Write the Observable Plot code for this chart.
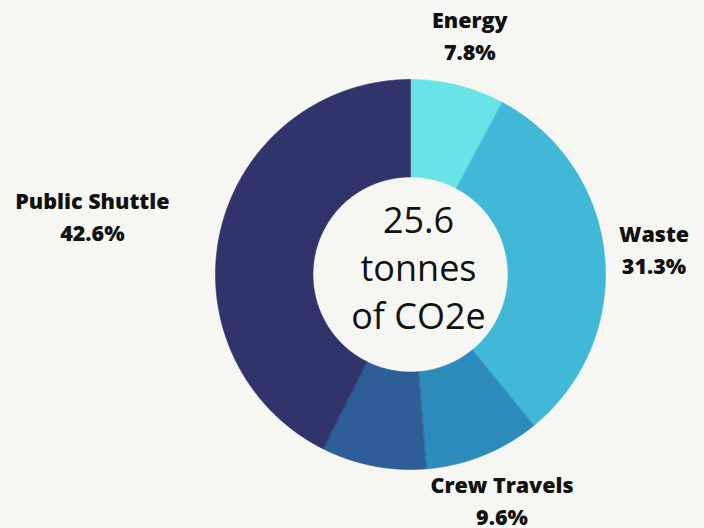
<!DOCTYPE html>
<html>
<head>
<meta charset="utf-8">
<script src="https://cdn.jsdelivr.net/npm/d3@7"></script>
<script src="https://cdn.jsdelivr.net/npm/@observablehq/plot@0.6"></script>
<style>
  html, body { margin: 0; padding: 0; background: #f6f7f2; }
  #chart { width: 704px; height: 528px; }
</style>
</head>
<body>
<div id="chart"></div>
<script>
// ---- data ----
const categories = ["Energy", "Waste", "Crew Travels", "Other", "Public Shuttle"];
const shares = [7.8, 31.3, 9.6, 8.7, 42.6];
const sliceLabels = ["Energy", "Waste", "Crew Travels", "", "Public Shuttle"];
const colors = ["#69e3e8", "#42b8d7", "#2d8bbb", "#2d5e97", "#31346a"];
const centerLines = ["25.6", "tonnes", "of CO2e"];

// ---- geometry derived from data (unit circle space) ----
const innerR = 0.5;
const total = d3.sum(shares);
const slices = [];
const labelData = [];
let cum = 0;
categories.forEach((cat, i) => {
  const a0 = (cum / total) * 2 * Math.PI;
  cum += shares[i];
  const a1 = (cum / total) * 2 * Math.PI;
  const n = Math.max(2, Math.ceil((a1 - a0) / (Math.PI / 360)));
  const pts = [];
  for (let k = 0; k <= n; k++) {
    const a = a0 + (a1 - a0) * k / n;
    pts.push({category: cat, x: Math.sin(a), y: -Math.cos(a)});
  }
  for (let k = n; k >= 0; k--) {
    const a = a0 + (a1 - a0) * k / n;
    pts.push({category: cat, x: innerR * Math.sin(a), y: -innerR * Math.cos(a)});
  }
  slices.push(...pts);
  if (sliceLabels[i]) {
    const m = (a0 + a1) / 2;
    const lr = 1.255;
    labelData.push({
      category: cat,
      text: sliceLabels[i] + "\n" + shares[i].toFixed(1) + "%",
      x: lr * Math.sin(m),
      y: -lr * Math.cos(m),
      left: Math.sin(m) < -0.5
    });
  }
});

const labelStyle = {
  x: "x", y: "y", text: "text",
  fontFamily: "'Open Sans', sans-serif",
  fontWeight: 800,
  fontSize: 21.5,
  lineHeight: 1.48,
  lineAnchor: "middle",
  textAnchor: "middle",
  fill: "#111111",
  dy: -3
};

const chart = Plot.plot({
  width: 704,
  height: 528,
  margin: 0,
  style: {background: "#f6f7f2", overflow: "visible"},
  x: {domain: [-1, 1], range: [215, 605], axis: null},
  y: {domain: [-1, 1], range: [79, 469], axis: null},
  color: {domain: categories, range: colors},
  marks: [
    Plot.line(slices, {
      x: "x", y: "y", z: "category",
      fill: "category", stroke: "category", strokeWidth: 0.6,
      curve: "linear-closed"
    }),
    Plot.text(labelData.filter(d => !d.left), labelStyle),
    Plot.text(labelData.filter(d => d.left), {...labelStyle, dx: -80}),
    Plot.text([centerLines.join("\n")], {
      x: 0, y: 0, text: d => d,
      fontFamily: "'Open Sans', sans-serif",
      fontWeight: 500,
      fontSize: 36,
      lineHeight: 1.34,
      lineAnchor: "middle",
      textAnchor: "middle",
      fill: "#111111",
      dx: 8,
      dy: -9
    })
  ]
});
document.getElementById("chart").appendChild(chart);
</script>
</body>
</html>
